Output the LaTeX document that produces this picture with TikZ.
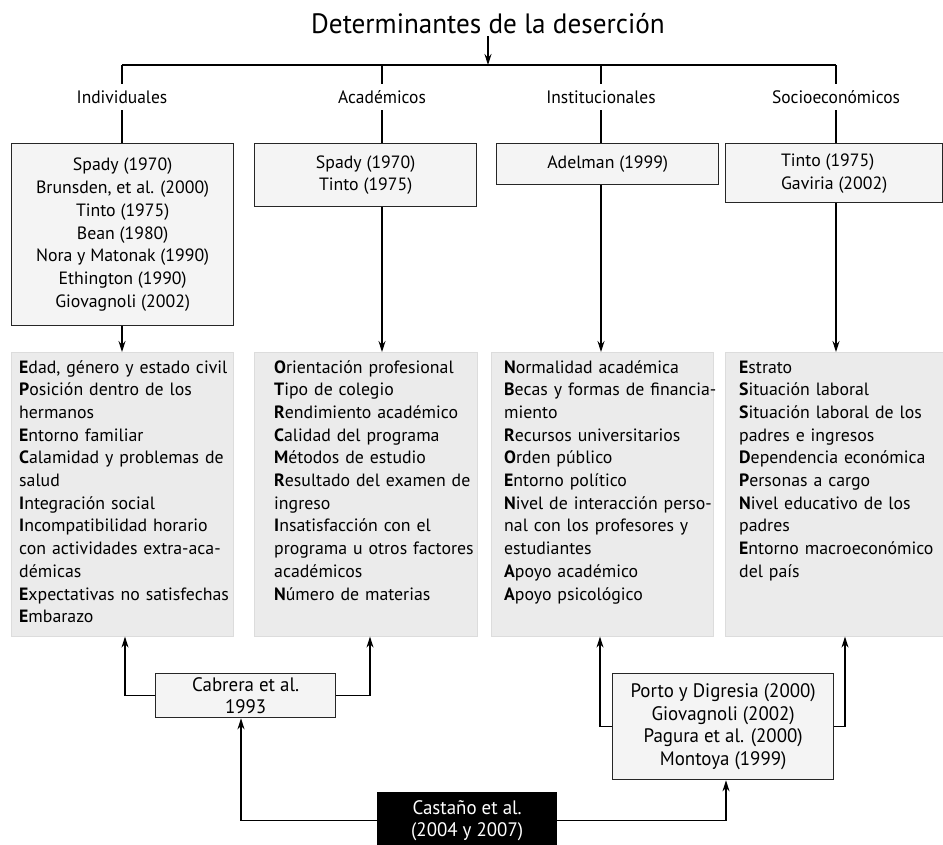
\documentclass[tikz,border=0pt]{standalone}
\usepackage{fontspec}
\setmainfont{PT Sans}
\newfontfamily\condfont{PT Sans}[FakeStretch=0.97]
\usetikzlibrary{arrows.meta,calc}
\definecolor{boxfill}{HTML}{F4F4F4}
\definecolor{greyfill}{HTML}{EBEBEB}
\definecolor{greyline}{HTML}{DCDCDC}
\definecolor{boxline}{HTML}{262626}
\begin{document}
\begin{tikzpicture}[x=1pt,y=-1pt,
  body/.style={font=\fontsize{17.8}{22.7}\selectfont},
  refbox/.style={draw=boxline, line width=1.3pt, fill=boxfill, anchor=north west, inner sep=0pt, align=center, body},
  greybox/.style={draw=greyline, line width=0.6pt, fill=greyfill, anchor=north west, inner sep=0pt},
  items/.style={anchor=base west, inner sep=0pt, align=left, text width=225pt, body},
  cat/.style={font=\condfont\fontsize{18}{20}\selectfont, inner sep=0pt, minimum height=26pt},
  condbox/.style={draw=boxline, line width=1.3pt, fill=boxfill, anchor=north west, inner sep=0pt, align=center, font=\condfont\fontsize{19.5}{22.5}\selectfont},
  conn/.style={line width=1.2pt},
  arr/.style={line width=1.2pt, -{Stealth[length=11pt,width=7pt]}},
]
\useasboundingbox (0,0) rectangle (943,844);

% title and categories
\node[font=\condfont\fontsize{28}{30}\selectfont, inner sep=2pt] (title) at (488,24) {Determinantes de la deserción};
\coordinate (hub) at (488,65);
\coordinate (t1) at (122,65);
\coordinate (t2) at (382,65);
\coordinate (t3) at (601,65);
\coordinate (t4) at (836,65);
\draw[conn] (t1) -- (t4);
\draw[arr] (title.south) -- (hub);

\node[cat] (lInd) at (122,97) {Individuales};
\node[cat] (lAca) at (382,97) {Académicos};
\node[cat] (lIns) at (601,97) {Institucionales};
\node[cat] (lSoc) at (836,97) {Socioeconómicos};

% reference boxes
\node[refbox, minimum width=222pt, minimum height=182pt] (bInd) at (11,143)
  {Spady (1970)\\Brunsden, et al. (2000)\\Tinto (1975)\\Bean (1980)\\Nora y Matonak (1990)\\Ethington (1990)\\Giovagnoli (2002)};
\node[refbox, minimum width=222pt, minimum height=63pt] (bAca) at (254,143)
  {Spady (1970)\\Tinto (1975)};
\node[refbox, minimum width=222pt, minimum height=41pt] (bIns) at (496,143)
  {Adelman (1999)};
\node[refbox, minimum width=217pt, minimum height=59pt] (bSoc) at (725,143)
  {\begin{tabular}{@{}l@{}}Tinto (1975)\\Gaviria (2002)\end{tabular}};

\draw[conn] (t1) -- (lInd.north);
\draw[conn] (t2) -- (lAca.north);
\draw[conn] (t3) -- (lIns.north);
\draw[conn] (t4) -- (lSoc.north);
\draw[conn] (lInd.south) -- (lInd.south |- bInd.north);
\draw[conn] (lAca.south) -- (lAca.south |- bAca.north);
\draw[conn] (lIns.south) -- (lIns.south |- bIns.north);
\draw[conn] (lSoc.south) -- (lSoc.south |- bSoc.north);

% grey boxes
\node[greybox, minimum width=222pt, minimum height=284pt] (gInd) at (11,352) {};
\node[greybox, minimum width=223pt, minimum height=284pt] (gAca) at (254,352) {};
\node[greybox, minimum width=222pt, minimum height=284pt] (gIns) at (491,352) {};
\node[greybox, minimum width=218pt, minimum height=284pt] (gSoc) at (725,352) {};

\draw[arr] (lInd |- bInd.south) -- (lInd |- gInd.north);
\draw[arr] (lAca |- bAca.south) -- (lAca |- gAca.north);
\draw[arr] (lIns |- bIns.south) -- (lIns |- gIns.north);
\draw[arr] (lSoc |- bSoc.south) -- (lSoc |- gSoc.north);

\node[items] (tInd) at (19,373) {\textbf{E}dad, género y estado civil\\
\textbf{P}osición dentro de los\\
hermanos\\
\textbf{E}ntorno familiar\\
\textbf{C}alamidad y problemas de\\
salud\\
\textbf{I}ntegración social\\
\textbf{I}ncompatibilidad horario\\
con actividades extra-aca-\\
démicas\\
\textbf{E}xpectativas no satisfechas\\
\textbf{E}mbarazo};
\node[items] (tAca) at (274,373) {\textbf{O}rientación profesional\\
\textbf{T}ipo de colegio\\
\textbf{R}endimiento académico\\
\textbf{C}alidad del programa\\
\textbf{M}étodos de estudio\\
\textbf{R}esultado del examen de\\
ingreso\\
\textbf{I}nsatisfacción con el\\
programa u otros factores\\
académicos\\
\textbf{N}úmero de materias};
\node[items] (tIns) at (504,373) {\textbf{N}ormalidad académica\\
\textbf{B}ecas y formas de financia-\\
miento\\
\textbf{R}ecursos universitarios\\
\textbf{O}rden público\\
\textbf{E}ntorno político\\
\textbf{N}ivel de interacción perso-\\
nal con los profesores y\\
estudiantes\\
\textbf{A}poyo académico\\
\textbf{A}poyo psicológico};
\node[items] (tSoc) at (739,373) {\textbf{E}strato\\
\textbf{S}ituación laboral\\
\textbf{S}ituación laboral de los\\
padres e ingresos\\
\textbf{D}ependencia económica\\
\textbf{P}ersonas a cargo\\
\textbf{N}ivel educativo de los\\
padres\\
\textbf{E}ntorno macroeconómico\\
del país};

% bottom boxes
\node[condbox, minimum width=180pt, minimum height=44pt] (cab) at (155,673) {Cabrera et al.\\1993};
\node[condbox, minimum width=221pt, minimum height=106pt] (por) at (612,673)
  {Porto y Digresia (2000)\\Giovagnoli (2002)\\Pagura et al. (2000)\\Montoya (1999)};
\node[condbox, fill=black, draw=black, text=white, minimum width=179pt, minimum height=56pt] (cas) at (377,792)
  {Castaño et al.\\(2004 y 2007)};

\coordinate (xA) at (125,0);
\coordinate (xB) at (370,0);
\coordinate (xC) at (600,0);
\coordinate (xD) at (845,0);
\coordinate (xE) at (241,0);
\coordinate (xF) at (726,0);
\draw[arr] (cab.west) -| (gInd.south -| xA);
\draw[arr] (cab.east) -| (gAca.south -| xB);
\draw[arr] (por.west) -| (gIns.south -| xC);
\draw[arr] (por.east) -| (gSoc.south -| xD);
\draw[arr] (cas.west) -| (cab.south -| xE);
\draw[arr] (cas.east) -| (por.south -| xF);
\end{tikzpicture}
\end{document}
